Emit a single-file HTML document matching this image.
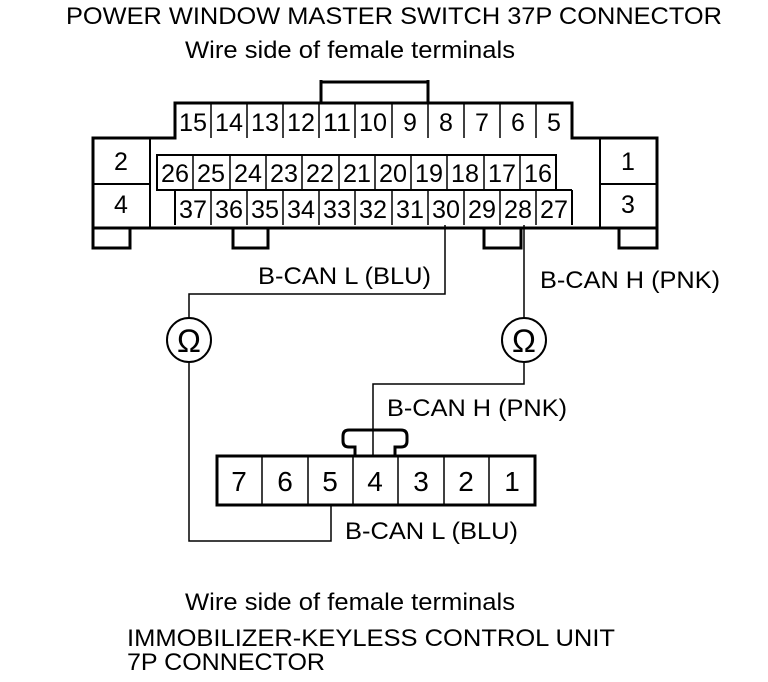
<!DOCTYPE html>
<html><head><meta charset="utf-8"><style>
html,body{margin:0;padding:0;background:#fff;}
svg{display:block;}
text{font-family:"Liberation Sans",sans-serif;fill:#000;}
</style></head><body>
<svg width="768" height="682" viewBox="0 0 768 682" xmlns="http://www.w3.org/2000/svg">
<g font-size="24">
<text x="66" y="24" textLength="656" lengthAdjust="spacingAndGlyphs">POWER WINDOW MASTER SWITCH 37P CONNECTOR</text>
<text x="185" y="58" textLength="330" lengthAdjust="spacingAndGlyphs">Wire side of female terminals</text>
<text x="185" y="610" textLength="330" lengthAdjust="spacingAndGlyphs">Wire side of female terminals</text>
<text x="127" y="646" textLength="488" lengthAdjust="spacingAndGlyphs">IMMOBILIZER-KEYLESS CONTROL UNIT</text>
<text x="127" y="670" textLength="198" lengthAdjust="spacingAndGlyphs">7P CONNECTOR</text>
<text x="258" y="284" textLength="173" lengthAdjust="spacingAndGlyphs">B-CAN L (BLU)</text>
<text x="540" y="288" textLength="180" lengthAdjust="spacingAndGlyphs">B-CAN H (PNK)</text>
<text x="387" y="416" textLength="180" lengthAdjust="spacingAndGlyphs">B-CAN H (PNK)</text>
<text x="345" y="539" textLength="173" lengthAdjust="spacingAndGlyphs">B-CAN L (BLU)</text>
</g>
<g fill="none" stroke="#000" stroke-width="3">
<path d="M321 103 V80 M428 103 V80 M321 82 H428"/>
<path d="M175 138 V103 H572 V138 H657 V228 H93 V138 H175 Z"/>
<path d="M93 228 V248 H130 V228"/>
<path d="M233 228 V248 H268 V228"/>
<path d="M484 228 V248 H521 V228"/>
<path d="M619 228 V248 H657 V228"/>
</g>
<g fill="none" stroke="#000" stroke-width="2">
<path d="M150 138 V228 M93 184 H150"/>
<path d="M600 138 V228 M600 184 H657"/>
<rect x="157" y="155" width="399" height="35"/>
<path d="M175 190 V225 M572 190 V225 M556 190 H572"/>
</g>
<g stroke="#000" stroke-width="1.5">
<path d="M211 103V138M247 103V138M283 103V138M319 103V138M355 103V138M392 103V138M428 103V138M464 103V138M500 103V138M536 103V138"/>
<path d="M193 155V190M230 155V190M266 155V190M302 155V190M339 155V190M375 155V190M411 155V190M447 155V190M484 155V190M520 155V190"/>
<path d="M211 190V225M247 190V225M283 190V225M319 190V225M355 190V225M392 190V225M428 190V225M464 190V225M500 190V225M536 190V225"/>
</g>
<g font-size="25" text-anchor="middle" lengthAdjust="spacingAndGlyphs">
<text x="193" y="131" textLength="28" lengthAdjust="spacingAndGlyphs">15</text><text x="229" y="131" textLength="28" lengthAdjust="spacingAndGlyphs">14</text><text x="265" y="131" textLength="28" lengthAdjust="spacingAndGlyphs">13</text><text x="301" y="131" textLength="28" lengthAdjust="spacingAndGlyphs">12</text><text x="337" y="131" textLength="28" lengthAdjust="spacingAndGlyphs">11</text><text x="373" y="131" textLength="28" lengthAdjust="spacingAndGlyphs">10</text><text x="410" y="131">9</text><text x="446" y="131">8</text><text x="482" y="131">7</text><text x="518" y="131">6</text><text x="554" y="131">5</text>
<text x="175" y="182" textLength="28" lengthAdjust="spacingAndGlyphs">26</text><text x="211" y="182" textLength="28" lengthAdjust="spacingAndGlyphs">25</text><text x="248" y="182" textLength="28" lengthAdjust="spacingAndGlyphs">24</text><text x="284" y="182" textLength="28" lengthAdjust="spacingAndGlyphs">23</text><text x="320" y="182" textLength="28" lengthAdjust="spacingAndGlyphs">22</text><text x="357" y="182" textLength="28" lengthAdjust="spacingAndGlyphs">21</text><text x="393" y="182" textLength="28" lengthAdjust="spacingAndGlyphs">20</text><text x="429" y="182" textLength="28" lengthAdjust="spacingAndGlyphs">19</text><text x="465" y="182" textLength="28" lengthAdjust="spacingAndGlyphs">18</text><text x="502" y="182" textLength="28" lengthAdjust="spacingAndGlyphs">17</text><text x="538" y="182" textLength="28" lengthAdjust="spacingAndGlyphs">16</text>
<text x="193" y="218" textLength="28" lengthAdjust="spacingAndGlyphs">37</text><text x="229" y="218" textLength="28" lengthAdjust="spacingAndGlyphs">36</text><text x="265" y="218" textLength="28" lengthAdjust="spacingAndGlyphs">35</text><text x="301" y="218" textLength="28" lengthAdjust="spacingAndGlyphs">34</text><text x="337" y="218" textLength="28" lengthAdjust="spacingAndGlyphs">33</text><text x="373" y="218" textLength="28" lengthAdjust="spacingAndGlyphs">32</text><text x="410" y="218" textLength="28" lengthAdjust="spacingAndGlyphs">31</text><text x="446" y="218" textLength="28" lengthAdjust="spacingAndGlyphs">30</text><text x="482" y="218" textLength="28" lengthAdjust="spacingAndGlyphs">29</text><text x="518" y="218" textLength="28" lengthAdjust="spacingAndGlyphs">28</text><text x="554" y="218" textLength="28" lengthAdjust="spacingAndGlyphs">27</text>
<text x="121" y="170">2</text><text x="121" y="213">4</text>
<text x="628" y="170">1</text><text x="628" y="213">3</text>
</g>
<g fill="none" stroke="#000" stroke-width="1.5">
<path d="M445 225 V294 H189 V318"/>
<path d="M524 225 V318"/>
<path d="M189 363 V541 H331 V505"/>
<path d="M524 363 V384 H373 V456"/>
</g>
<g fill="none" stroke="#000" stroke-width="2">
<circle cx="189" cy="340" r="22"/>
<circle cx="524" cy="340" r="22"/>
</g>
<g font-size="32" text-anchor="middle"><text x="189" y="352">Ω</text><text x="524" y="352">Ω</text></g>
<g fill="none" stroke="#000" stroke-width="3">
<rect x="217" y="456" width="318" height="49"/>
<path d="M355 456 V447 H349 Q343 447 343 441 V436 Q343 430 349 430 H401 Q407 430 407 436 V441 Q407 447 401 447 H395 V456"/>
</g>
<g stroke="#000" stroke-width="1.5">
<path d="M262 456V505M308 456V505M353 456V505M398 456V505M444 456V505M489 456V505"/>
</g>
<g font-size="28" text-anchor="middle">
<text x="239" y="491">7</text><text x="285" y="491">6</text><text x="330" y="491">5</text><text x="375" y="491">4</text><text x="421" y="491">3</text><text x="466" y="491">2</text><text x="512" y="491">1</text>
</g>
</svg>
</body></html>
